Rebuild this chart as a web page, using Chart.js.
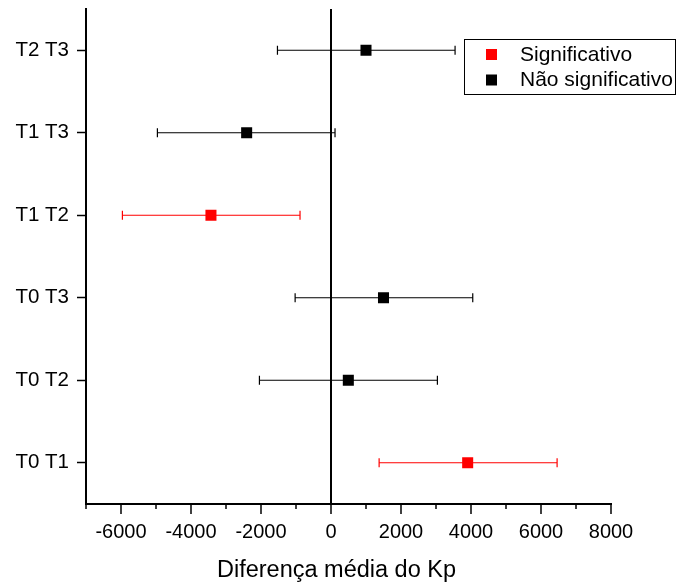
<!DOCTYPE html>
<html>
<head>
<meta charset="utf-8">
<script src="https://cdn.jsdelivr.net/npm/chart.js@4.4.1/dist/chart.umd.min.js"></script>
<style>
  html, body { margin: 0; padding: 0; background: #fff; }
  #wrap { width: 677px; height: 585px; }
</style>
</head>
<body>
<div id="wrap"><canvas id="kpChart" width="677" height="585"></canvas></div>
<script>
// pairwise comparisons, bottom to top
const comparisons = ['T0 T1', 'T0 T2', 'T0 T3', 'T1 T2', 'T1 T3', 'T2 T3'];
const meanDiff = [3905, 495, 1500, -3430, -2410, 1000];
const lowerCI = [1375, -2045, -1025, -5960, -4960, -1530];
const upperCI = [6460, 3040, 4050, -885, 115, 3545];
const significant = [true, false, false, true, false, false];
const seriesNames = ['Significativo', 'Não significativo'];
const seriesColors = ['#ff0000', '#000000'];
const xMin = -7000, xMax = 8000, xStep = 1000, xLabelStep = 2000;
const xTitle = 'Diferença média do Kp';

const FONT = '"Liberation Sans", Arial, sans-serif';

function pointsFor(flag) {
    const pts = [];
    comparisons.forEach(function (label, i) {
        if (significant[i] === flag) {
            pts.push({ x: meanDiff[i], y: label, lo: lowerCI[i], hi: upperCI[i] });
        }
    });
    return pts;
}

// horizontal confidence interval bars with end caps
const errorBars = {
    id: 'errorBars',
    beforeDatasetsDraw(chart) {
        const ctx = chart.ctx;
        const xs = chart.scales.x;
        chart.data.datasets.forEach(function (ds, d) {
            const meta = chart.getDatasetMeta(d);
            ctx.save();
            ctx.strokeStyle = ds.pointBackgroundColor;
            ctx.lineWidth = 1.2;
            meta.data.forEach(function (pt, i) {
                const raw = ds.data[i];
                const x1 = xs.getPixelForValue(raw.lo);
                const x2 = xs.getPixelForValue(raw.hi);
                const y = pt.y;
                ctx.beginPath();
                ctx.moveTo(x1, y); ctx.lineTo(x2, y);
                ctx.moveTo(x1, y - 4.5); ctx.lineTo(x1, y + 4.5);
                ctx.moveTo(x2, y - 4.5); ctx.lineTo(x2, y + 4.5);
                ctx.stroke();
            });
            ctx.restore();
        });
    }
};

// minor x ticks, axis title and boxed legend
const extras = {
    id: 'extras',
    afterDraw(chart) {
        const ctx = chart.ctx;
        const xs = chart.scales.x;
        const bottom = chart.chartArea.bottom;
        ctx.save();
        ctx.strokeStyle = '#000';
        ctx.lineWidth = 1.5;
        xs.ticks.forEach(function (t) {
            if (t.value % xLabelStep !== 0) {
                const px = xs.getPixelForValue(t.value);
                ctx.beginPath();
                ctx.moveTo(px, bottom);
                ctx.lineTo(px, bottom + 5);
                ctx.stroke();
            }
        });

        ctx.fillStyle = '#000';
        ctx.font = '23.5px ' + FONT;
        ctx.textAlign = 'center';
        ctx.textBaseline = 'alphabetic';
        ctx.fillText(xTitle, 336.5, 577);

        ctx.lineWidth = 1;
        ctx.strokeRect(464.5, 39.5, 211, 55);
        ctx.font = '21px ' + FONT;
        ctx.textAlign = 'left';
        ctx.textBaseline = 'middle';
        chart.data.datasets.forEach(function (ds, i) {
            const cy = 54.5 + i * 25.5;
            ctx.fillStyle = ds.pointBackgroundColor;
            ctx.fillRect(486, cy - 5.5, 11, 11);
            ctx.fillStyle = '#000';
            ctx.fillText(ds.label, 520, cy + 0.5);
        });
        ctx.restore();
    }
};

const ctx = document.getElementById('kpChart').getContext('2d');
new Chart(ctx, {
    type: 'scatter',
    data: {
        datasets: [
            {
                label: seriesNames[0],
                data: pointsFor(true),
                pointBackgroundColor: seriesColors[0],
                pointBorderWidth: 0,
                pointStyle: 'rect',
                pointRadius: 7.8
            },
            {
                label: seriesNames[1],
                data: pointsFor(false),
                pointBackgroundColor: seriesColors[1],
                pointBorderWidth: 0,
                pointStyle: 'rect',
                pointRadius: 7.8
            }
        ]
    },
    options: {
        responsive: false,
        animation: false,
        layout: { padding: { top: 9, right: 66, left: 0, bottom: 0 } },
        plugins: {
            legend: { display: false },
            tooltip: { enabled: false }
        },
        scales: {
            x: {
                type: 'linear',
                min: xMin,
                max: xMax,
                ticks: {
                    stepSize: xStep,
                    autoSkip: false,
                    maxRotation: 0,
                    color: '#000',
                    padding: 6,
                    font: { family: FONT, size: 20 },
                    callback: function (v) { return v % xLabelStep === 0 ? String(v) : ''; }
                },
                grid: {
                    drawOnChartArea: true,
                    color: function (c) { return c.tick && c.tick.value === 0 ? '#000' : 'rgba(0,0,0,0)'; },
                    lineWidth: 2,
                    tickLength: 10,
                    tickColor: function (c) { return c.tick && c.tick.value % xLabelStep === 0 ? '#000' : 'rgba(0,0,0,0)'; },
                    tickWidth: 1.5
                },
                border: { display: true, color: '#000', width: 2 },
                afterFit: function (s) { s.height = 81; }
            },
            y: {
                type: 'category',
                labels: comparisons,
                reverse: true,
                offset: true,
                ticks: {
                    color: '#000',
                    padding: 8,
                    font: { family: FONT, size: 20.5 }
                },
                grid: {
                    drawOnChartArea: false,
                    tickLength: 9,
                    tickColor: '#000',
                    tickWidth: 1.5
                },
                border: { display: true, color: '#000', width: 2 },
                afterFit: function (s) {
                    s.width = 86;
                    s.paddingTop = 0;
                    s.paddingBottom = 0;
                }
            }
        }
    },
    plugins: [errorBars, extras]
});
</script>
</body>
</html>
